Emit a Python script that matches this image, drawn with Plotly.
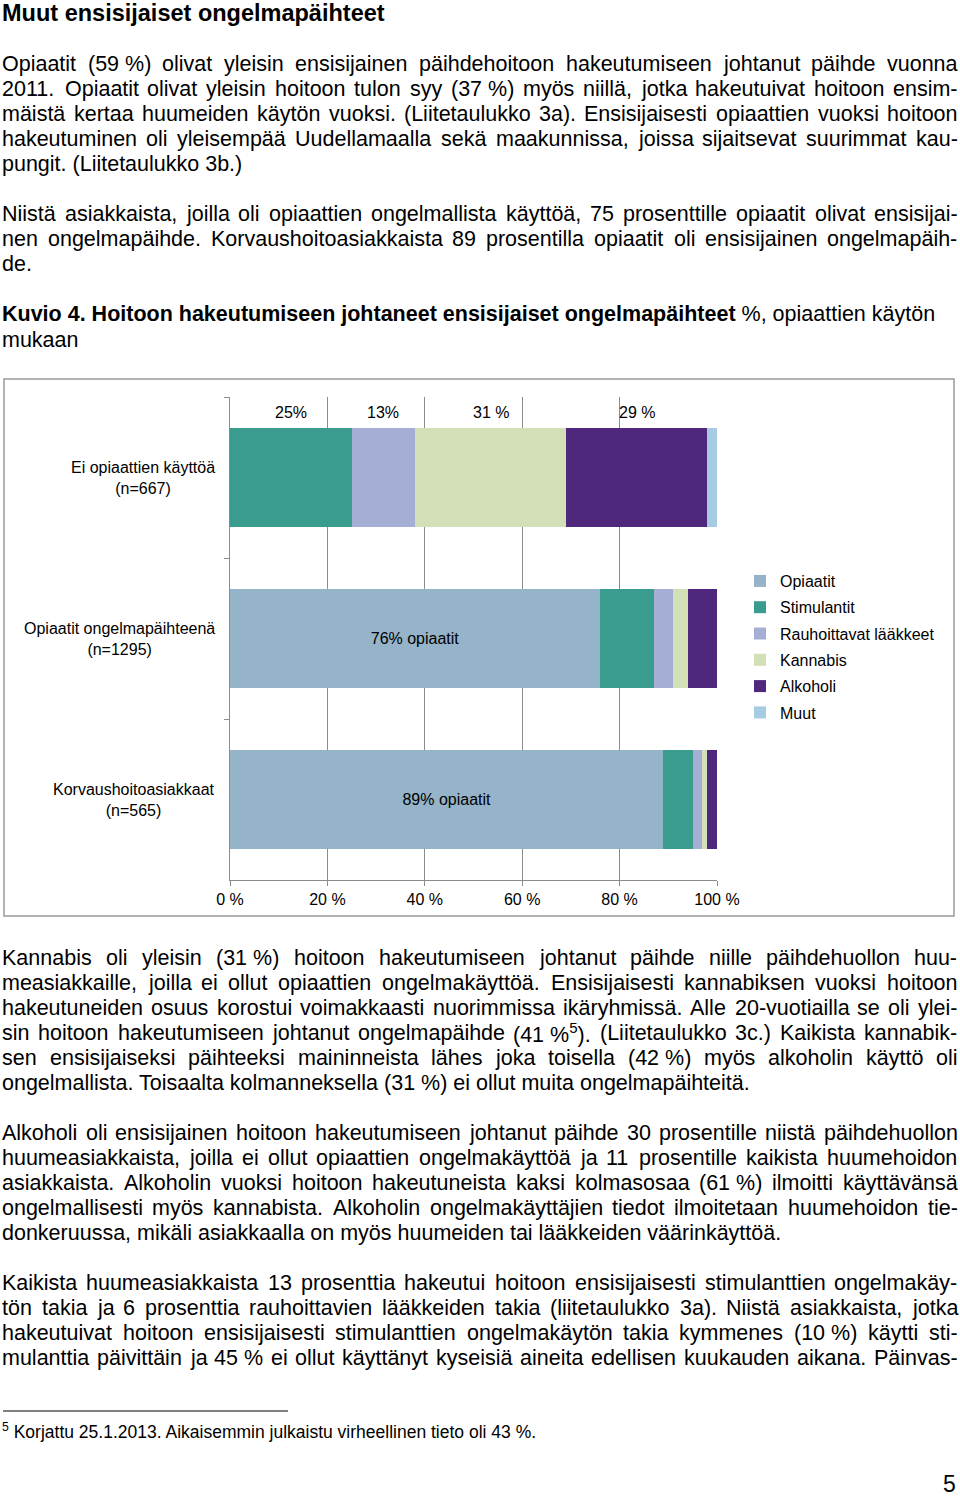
import re
import plotly.graph_objects as go

# ---------------- data ----------------
categories = ["Ei opiaattien käyttöä<br>(n=667)",
              "Opiaatit ongelmapäihteenä<br>(n=1295)",
              "Korvaushoitoasiakkaat<br>(n=565)"]
series_names = ["Opiaatit", "Stimulantit", "Rauhoittavat lääkkeet", "Kannabis", "Alkoholi", "Muut"]
opiaatit = [0, 76, 89]
stimulantit = [25, 11, 6]
rauhoittavat = [13, 4, 2]
kannabis = [31, 3, 1]
alkoholi = [29, 6, 2]
muut = [2, 0, 0]
bar_texts = [" ", "76% opiaatit", "89% opiaatit"]
top_labels = ["25%", "13%", "31 %", "29 %"]   # labels above row 1 (Stimulantit..Alkoholi)
x_ticks = [0, 20, 40, 60, 80, 100]
colors = ["#95B3C9", "#3A9C8F", "#A5AED4", "#D3E0B7", "#4F287E", "#A8CBE4"]

NB = "\u00a0"
body_lines = [
    ("Opiaatit (59" + NB + "%) olivat yleisin ensisijainen päihdehoitoon hakeutumiseen johtanut päihde vuonna", 64, True),
    ("2011. Opiaatit olivat yleisin hoitoon tulon syy (37" + NB + "%) myös niillä, jotka hakeutuivat hoitoon ensim-", 89, True),
    ("mäistä kertaa huumeiden käytön vuoksi. (Liitetaulukko 3a). Ensisijaisesti opiaattien vuoksi hoitoon", 114, True),
    ("hakeutuminen oli yleisempää Uudellamaalla sekä maakunnissa, joissa sijaitsevat suurimmat kau-", 139, True),
    ("pungit. (Liitetaulukko 3b.)", 164, False),
    ("Niistä asiakkaista, joilla oli opiaattien ongelmallista käyttöä, 75 prosenttille opiaatit olivat ensisijai-", 214, True),
    ("nen ongelmapäihde. Korvaushoitoasiakkaista 89 prosentilla opiaatit oli ensisijainen ongelmapäih-", 239, True),
    ("de.", 264, False),
    ("Kannabis oli yleisin (31" + NB + "%) hoitoon hakeutumiseen johtanut päihde niille päihdehuollon huu-", 958, True),
    ("measiakkaille, joilla ei ollut opiaattien ongelmakäyttöä. Ensisijaisesti kannabiksen vuoksi hoitoon", 983, True),
    ("hakeutuneiden osuus korostui voimakkaasti nuorimmissa ikäryhmissä. Alle 20-vuotiailla se oli ylei-", 1008, True),
    ("sin hoitoon hakeutumiseen johtanut ongelmapäihde (41" + NB + "%<sup>5</sup>). (Liitetaulukko 3c.) Kaikista kannabik-", 1033, True),
    ("sen ensisijaiseksi päihteeksi maininneista lähes joka toisella (42" + NB + "%) myös alkoholin käyttö oli", 1058, True),
    ("ongelmallista. Toisaalta kolmanneksella (31" + NB + "%) ei ollut muita ongelmapäihteitä.", 1083, False),
    ("Alkoholi oli ensisijainen hoitoon hakeutumiseen johtanut päihde 30 prosentille niistä päihdehuollon", 1133, True),
    ("huumeasiakkaista, joilla ei ollut opiaattien ongelmakäyttöä ja 11 prosentille kaikista huumehoidon", 1158, True),
    ("asiakkaista. Alkoholin vuoksi hoitoon hakeutuneista kaksi kolmasosaa (61" + NB + "%) ilmoitti käyttävänsä", 1183, True),
    ("ongelmallisesti myös kannabista. Alkoholin ongelmakäyttäjien tiedot ilmoitetaan huumehoidon tie-", 1208, True),
    ("donkeruussa, mikäli asiakkaalla on myös huumeiden tai lääkkeiden väärinkäyttöä.", 1233, False),
    ("Kaikista huumeasiakkaista 13 prosenttia hakeutui hoitoon ensisijaisesti stimulanttien ongelmakäy-", 1283, True),
    ("tön takia ja 6 prosenttia rauhoittavien lääkkeiden takia (liitetaulukko 3a). Niistä asiakkaista, jotka", 1308, True),
    ("hakeutuivat hoitoon ensisijaisesti stimulanttien ongelmakäytön takia kymmenes (10" + NB + "%) käytti sti-", 1333, True),
    ("mulanttia päivittäin ja 45" + NB + "% ei ollut käyttänyt kyseisiä aineita edellisen kuukauden aikana. Päinvas-", 1358, True),
]
heading = "Muut ensisijaiset ongelmapäihteet"
caption_bold = "Kuvio 4. Hoitoon hakeutumiseen johtaneet ensisijaiset ongelmapäihteet"
caption_rest = " %, opiaattien käytön"
caption_line2 = "mukaan"
footnote = "<sup>5</sup> Korjattu 25.1.2013. Aikaisemmin julkaistu virheellinen tieto oli 43 %."
page_number = "5"

# ---------------- layout geometry ----------------
W, H = 960, 1497
L, R, T, B = 230, 717, 397, 880
PW, PH = R - L, B - T
FONT = "Liberation Sans, Arial, sans-serif"
BODY = 21.5
CH = 16


def px_x(px):
    return (px - L) / PW


def px_y(py):
    return (B - py) / PH


AW = {' ': 278, NB: 278, '!': 278, '"': 355, '%': 889, '&': 667, "'": 191, '(': 333, ')': 333,
      ',': 278, '-': 333, '.': 278, '/': 278, ':': 278, ';': 278, '?': 556,
      'A': 667, 'B': 667, 'C': 722, 'D': 722, 'E': 667, 'F': 611, 'G': 778, 'H': 722, 'I': 278,
      'J': 500, 'K': 667, 'L': 556, 'M': 833, 'N': 722, 'O': 778, 'P': 667, 'Q': 778, 'R': 722,
      'S': 667, 'T': 611, 'U': 722, 'V': 667, 'W': 944, 'X': 667, 'Y': 667, 'Z': 611,
      'a': 556, 'b': 556, 'c': 500, 'd': 556, 'e': 556, 'f': 278, 'g': 556, 'h': 556, 'i': 222,
      'j': 222, 'k': 500, 'l': 222, 'm': 833, 'n': 556, 'o': 556, 'p': 556, 'q': 556, 'r': 333,
      's': 500, 't': 278, 'u': 556, 'v': 500, 'w': 722, 'x': 500, 'y': 500, 'z': 500,
      'ä': 556, 'ö': 556, 'å': 556, 'Ä': 667, 'Ö': 778}


def text_width(s, size):
    total = 0.0
    for p in re.split(r'(<sup>.*?</sup>)', s):
        if p.startswith('<sup>'):
            total += sum(AW.get(c, 556) for c in p[5:-6]) * 0.7
        else:
            total += sum(AW.get(c, 556) for c in p)
    return total * size / 1000.0


annotations = []


def add_text(text, x, y, size, xanchor="left", bold=False, align="left"):
    annotations.append(dict(
        text=("<b>%s</b>" % text) if bold else text,
        x=px_x(x), y=px_y(y), xref="paper", yref="paper",
        xanchor=xanchor, yanchor="middle", showarrow=False, align=align,
        borderpad=0, borderwidth=0,
        font=dict(family=FONT, size=size, color="#000000")))


X0, X1 = 2, 957.5
for text, y, justify in body_lines:
    if not justify:
        add_text(text, X0, y, BODY)
        continue
    words = text.split(' ')
    widths = [text_width(w, BODY) for w in words]
    gap = (X1 - X0 - sum(widths)) / (len(words) - 1)
    gap = max(gap, 0.15 * BODY)
    x = X0
    for w, wd in zip(words, widths):
        add_text(w, x, y, BODY)
        x += wd + gap

add_text(heading, 2, 13, 23.5, bold=True)
add_text("<b>" + caption_bold + "</b>" + caption_rest, 2, 314, BODY)
add_text(caption_line2, 2, 340, BODY)
add_text(footnote, 2, 1431, 17.5)
add_text(page_number, 956, 1484, 23, xanchor="right")

# category labels (centered block, right edge at ~217px)
for i, c in enumerate(categories):
    annotations.append(dict(
        text=c, x=0, xref="paper", y=i, yref="y", xanchor="right", yanchor="middle",
        xshift=-13, showarrow=False, align="center",
        font=dict(family=FONT, size=CH, color="#000000")))

# labels above first row
row1 = [stimulantit[0], rauhoittavat[0], kannabis[0], alkoholi[0]]
start = opiaatit[0]
for lab, v in zip(top_labels, row1):
    annotations.append(dict(
        text=lab, x=start + v / 2.0, xref="x", y=-0.405, yref="y",
        xanchor="center", yanchor="middle", showarrow=False,
        font=dict(family=FONT, size=CH, color="#000000")))
    start += v

fig = go.Figure()
series_values = [opiaatit, stimulantit, rauhoittavat, kannabis, alkoholi, muut]
for k, (name, vals, col) in enumerate(zip(series_names, series_values, colors)):
    kw = {}
    if k == 0:
        kw = dict(text=bar_texts, textposition="inside", insidetextanchor="middle",
                  textangle=0, constraintext="none",
                  insidetextfont=dict(family=FONT, size=CH, color="#000000"))
    fig.add_trace(go.Bar(
        y=categories, x=vals, orientation="h", name=name, legendgroup=name,
        marker=dict(color=col, line=dict(width=0)), hoverinfo="skip", **kw))

shapes = [
    dict(type="rect", xref="paper", yref="paper", x0=px_x(4), x1=px_x(954), y0=px_y(379), y1=px_y(916),
         line=dict(color="#9B9B9B", width=1.5), layer="below"),
    dict(type="line", xref="paper", yref="paper", x0=px_x(3), x1=px_x(288), y0=px_y(1411), y1=px_y(1411),
         line=dict(color="#000000", width=1)),
]

fig.update_layout(
    width=W, height=H, autosize=False,
    margin=dict(l=L, r=W - R, t=T, b=H - B, pad=0),
    paper_bgcolor="white", plot_bgcolor="white",
    barmode="stack", bargap=0.39,
    font=dict(family=FONT, size=CH, color="#000000"),
    xaxis=dict(range=[0, 100], tickvals=x_ticks, ticktext=["%d %%" % v for v in x_ticks],
               showgrid=True, gridcolor="#8C8C8C", gridwidth=1, zeroline=False,
               showline=True, linecolor="#8C8C8C", linewidth=1,
               ticks="outside", ticklen=5, tickcolor="#8C8C8C",
               tickfont=dict(family=FONT, size=CH, color="#000000"), fixedrange=True),
    yaxis=dict(range=[2.5, -0.5], showticklabels=False, showgrid=False, zeroline=False,
               showline=True, linecolor="#8C8C8C", linewidth=1,
               ticks="outside", ticklen=5, tickcolor="#8C8C8C", tickson="boundaries",
               fixedrange=True),
    showlegend=True,
    legend=dict(x=px_x(740), y=px_y(564), xanchor="left", yanchor="top",
                traceorder="grouped", tracegroupgap=2.5, itemwidth=30,
                font=dict(family=FONT, size=CH, color="#000000"),
                bgcolor="rgba(0,0,0,0)", borderwidth=0),
    annotations=annotations,
    shapes=shapes,
)

fig.write_html("out.html", config={"displayModeBar": False},
               post_script="document.body.style.margin='0';document.body.style.overflow='hidden';")
